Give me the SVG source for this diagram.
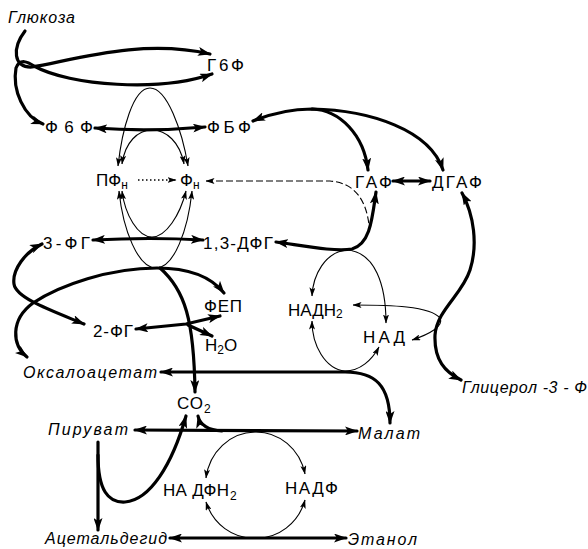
<svg xmlns="http://www.w3.org/2000/svg" width="588" height="549" viewBox="0 0 588 549">
<defs>
<style>
.lb{font-family:"Liberation Sans","DejaVu Sans",sans-serif;font-size:17px;fill:#000}
.it{font-family:"Liberation Sans","DejaVu Sans",sans-serif;font-size:16px;font-style:italic;fill:#000}
.sub{font-size:12px}
.tk{fill:none;stroke:#000;stroke-width:3.2;stroke-linecap:round}
.tn{fill:none;stroke:#000;stroke-width:1.1}
.ds{fill:none;stroke:#000;stroke-width:1.1;stroke-dasharray:7,3}
.dt{fill:none;stroke:#000;stroke-width:1.3;stroke-dasharray:1.5,2.5}
</style>
<marker id="ah" viewBox="0 0 13 9" refX="12" refY="4.5" markerWidth="13" markerHeight="9" markerUnits="userSpaceOnUse" orient="auto-start-reverse">
<path d="M0,0 L13,4.5 L0,9 L3,4.5 z" fill="#000"/>
</marker>
<marker id="as" viewBox="0 0 9 6" refX="8.5" refY="3" markerWidth="9" markerHeight="6" markerUnits="userSpaceOnUse" orient="auto-start-reverse">
<path d="M0,0 L9,3 L0,6 L2,3 z" fill="#000"/>
</marker>
</defs>
<g id="connectors">
<path class="tk" d="M25,31 C12,48 13,68 32,67 C70,61 140,38 210,54" marker-end="url(#ah)"/>
<path class="tk" d="M212,74 C160,92 70,86 34,66 C28,62 20,58 16,68 C12,90 24,117 43,124" marker-start="url(#ah)" marker-end="url(#ah)"/>
<path class="tk" d="M95,128 Q150,132 205,127" marker-start="url(#ah)" marker-end="url(#ah)"/>
<path class="tn" d="M118,166 C122,130 133,88 150,88 C167,88 182,130 188,166" marker-start="url(#as)" marker-end="url(#as)"/>
<path class="tn" d="M122,164 C125,142 138,130 152,130 C166,130 180,142 184,164" marker-start="url(#as)" marker-end="url(#as)"/>
<path class="tn" d="M122,191 C125,215 138,237 152,237 C166,237 180,215 186,191" marker-start="url(#as)" marker-end="url(#as)"/>
<path class="tn" d="M119,191 C123,230 138,268 156,268 C174,268 188,230 192,191" marker-start="url(#as)" marker-end="url(#as)"/>
<path class="dt" d="M138,180 L176,180" marker-end="url(#as)"/>
<path class="ds" d="M206,181 L330,181 C355,183 366,200 369,225" marker-start="url(#as)"/>
<path class="tk" d="M93,240 Q150,237 203,240" marker-start="url(#ah)" marker-end="url(#ah)"/>
<path class="tk" d="M253,121 C275,112 298,109 312,109 C340,110 364,135 368,170" marker-start="url(#ah)" marker-end="url(#ah)"/>
<path class="tk" d="M312,109 C370,110 430,130 443,170" marker-end="url(#ah)"/>
<path class="tk" d="M393,181 L430,181" marker-start="url(#ah)" marker-end="url(#ah)"/>
<path class="tk" d="M276,242 C305,246 335,252 352,249 C370,244 372,220 376,192" marker-start="url(#ah)" marker-end="url(#ah)"/>
<path class="tn" d="M347,250 C325,252 313,275 312,296" marker-end="url(#as)"/>
<path class="tn" d="M347,250 C375,252 386,285 386,323" marker-end="url(#as)"/>
<path class="tn" d="M312,321 C312,345 325,369 345,371 C360,371 372,360 379,347" marker-start="url(#as)" marker-end="url(#as)"/>
<path class="tn" d="M353,305 C390,305 430,306 440,318 C444,326 430,334 412,340" marker-start="url(#as)" marker-end="url(#as)"/>
<path class="tk" d="M462,193 C474,215 478,245 470,270 C462,295 437,310 435,335 C434,360 445,372 461,380" marker-start="url(#ah)" marker-end="url(#ah)"/>
<path class="tk" d="M42,244 C25,252 12,270 14,284 C16,298 50,310 84,324" marker-start="url(#ah)" marker-end="url(#ah)"/>
<path class="tk" d="M27,357 C12,345 10,320 33,303 C60,285 110,268 157,268 C190,268 212,278 224,293" marker-start="url(#ah)" marker-end="url(#ah)"/>
<path class="tk" d="M160,268 C185,290 194,320 195,392" marker-end="url(#ah)"/>
<path class="tk" d="M136,329 L186,324 L220,316" marker-start="url(#ah)" marker-end="url(#ah)"/>
<path class="tk" d="M188,325 L212,336" marker-end="url(#ah)"/>
<path class="tk" d="M161,372 L345,372 C375,372 390,385 390,423" marker-start="url(#ah)" marker-end="url(#ah)"/>
<path class="tk" d="M135,430 L357,431" marker-start="url(#ah)" marker-end="url(#ah)"/>
<path class="tk" d="M222,431 C208,430 200,425 198,416" marker-end="url(#ah)"/>
<path class="tn" d="M255,432 A50,53 0 0 0 206,478" marker-end="url(#as)"/>
<path class="tn" d="M255,432 A50,53 0 0 1 305,474" marker-end="url(#as)"/>
<path class="tn" d="M255,538 A50,53 0 0 1 206,502" marker-end="url(#as)"/>
<path class="tn" d="M255,538 A50,53 0 0 0 305,500" marker-end="url(#as)"/>
<path class="tk" d="M98,442 L98,530" marker-end="url(#ah)"/>
<path class="tk" d="M98,455 C98,490 108,503 125,502 C150,500 172,465 186,416" marker-end="url(#ah)"/>
<path class="tk" d="M170,538 L346,538" marker-start="url(#ah)" marker-end="url(#ah)"/>
</g>
<g id="glucose"><text class="it" x="8" y="23" textLength="67" lengthAdjust="spacing">Глюкоза</text></g>
<g id="g6p"><text class="lb" x="207" y="71" textLength="37">Г6Ф</text></g>
<g id="f6p"><text class="lb" x="45" y="133" textLength="48">Ф6Ф</text></g>
<g id="fbp"><text class="lb" x="207" y="133" textLength="44">ФБФ</text></g>
<g id="pfn"><text class="lb" x="96" y="186">ПФ<tspan class="sub" dy="3">н</tspan></text></g>
<g id="fn"><text class="lb" x="180" y="186">Ф<tspan class="sub" dy="3">н</tspan></text></g>
<g id="gap"><text class="lb" x="355" y="188" textLength="37">ГАФ</text></g>
<g id="dhap"><text class="lb" x="432" y="188" textLength="50">ДГАФ</text></g>
<g id="pg3"><text class="lb" x="43" y="249" textLength="47">3-ФГ</text></g>
<g id="dpg"><text class="lb" x="203" y="249" textLength="70">1,3-ДФГ</text></g>
<g id="pep"><text class="lb" x="204" y="312" textLength="38">ФЕП</text></g>
<g id="pg2"><text class="lb" x="93" y="337" textLength="40">2-ФГ</text></g>
<g id="h2o"><text class="lb" x="205" y="351">Н<tspan class="sub" dy="3">2</tspan><tspan dy="-3">О</tspan></text></g>
<g id="oxaloacetate"><text class="it" x="23" y="378" textLength="134" lengthAdjust="spacing">Оксалоацетат</text></g>
<g id="co2"><text class="lb" x="177" y="409" textLength="26">СО</text><text class="lb sub" x="204" y="413">2</text></g>
<g id="nadh2"><text class="lb" x="288" y="316">НАДН<tspan class="sub" dy="2">2</tspan></text></g>
<g id="nad"><text class="lb" x="363" y="343" textLength="42">НАД</text></g>
<g id="glycerol3p"><text class="it" x="462" y="393" textLength="125" lengthAdjust="spacing">Глицерол -3 - Ф</text></g>
<g id="pyruvate"><text class="it" x="48" y="435" textLength="80" lengthAdjust="spacing">Пируват</text></g>
<g id="malate"><text class="it" x="358" y="439" textLength="62" lengthAdjust="spacing">Малат</text></g>
<g id="nadph2"><text class="lb" x="163" y="496" textLength="66">НА ДФН</text><text class="lb sub" x="230" y="500">2</text></g>
<g id="nadp"><text class="lb" x="285" y="494" textLength="53">НАДФ</text></g>
<g id="acetaldehyde"><text class="it" x="45" y="544" textLength="122" lengthAdjust="spacing">Ацетальдегид</text></g>
<g id="ethanol"><text class="it" x="348" y="545" textLength="69" lengthAdjust="spacing">Этанол</text></g>
</svg>
